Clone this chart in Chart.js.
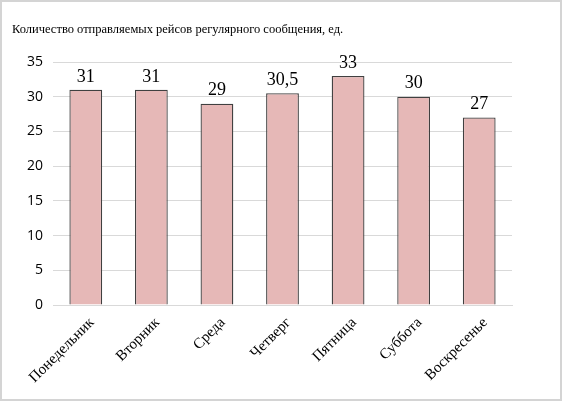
<!DOCTYPE html>
<html>
<head>
<meta charset="utf-8">
<script src="https://cdn.jsdelivr.net/npm/chart.js@4/dist/chart.umd.min.js"></script>
<style>
  html, body { margin: 0; padding: 0; background: #fff; }
  #wrap { width: 562px; height: 401px; position: relative; }
</style>
</head>
<body>
<div id="wrap"><canvas id="chart" width="562" height="401"></canvas></div>
<script>
// Data
const days = ["Понедельник", "Вторник", "Среда", "Четверг", "Пятница", "Суббота", "Воскресенье"];
const flights = [31, 31, 29, 30.5, 33, 30, 27];
const title = "Количество отправляемых рейсов регулярного сообщения, ед.";

// Frame + white background
const framePlugin = {
  id: "frame",
  beforeDraw(chart) {
    const ctx = chart.ctx;
    ctx.save();
    ctx.fillStyle = "#fff";
    ctx.fillRect(0, 0, chart.width, chart.height);
    ctx.strokeStyle = "#d4d4d4";
    ctx.lineWidth = 2;
    ctx.strokeRect(1, 1, chart.width - 2, chart.height - 2);
    ctx.restore();
  },
};

// Value labels above bars (comma decimal)
const valueLabels = {
  id: "valueLabels",
  afterDatasetsDraw(chart) {
    const ctx = chart.ctx;
    const meta = chart.getDatasetMeta(0);
    ctx.save();
    ctx.font = "18px 'Liberation Serif', 'Times New Roman', serif";
    ctx.fillStyle = "#000";
    ctx.textAlign = "center";
    ctx.textBaseline = "bottom";
    meta.data.forEach((bar, i) => {
      const txt = String(flights[i]).replace(".", ",");
      ctx.fillText(txt, bar.x, bar.y - 4);
    });
    ctx.restore();
  },
};

new Chart(document.getElementById("chart"), {
  type: "bar",
  data: {
    labels: days,
    datasets: [{
      data: flights,
      backgroundColor: "#e6b8b7",
      borderColor: "#404040",
      borderWidth: 1.3,
      categoryPercentage: 1,
      barPercentage: 0.5,
    }],
  },
  options: {
    responsive: false,
    animation: false,
    layout: { padding: { left: 12, right: 50, top: 22, bottom: 0 } },
    plugins: {
      legend: { display: false },
      tooltip: { enabled: false },
      title: {
        display: true,
        text: title,
        align: "start",
        color: "#000",
        font: { family: "'Liberation Serif', 'Times New Roman', serif", size: 12.5, weight: "normal" },
        padding: { top: 0, bottom: 25 },
      },
    },
    scales: {
      y: {
        min: 0,
        max: 35,
        ticks: {
          stepSize: 5,
          color: "#000",
          padding: 10,
          font: { family: "'Open Sans', 'Liberation Sans', sans-serif", size: 14 },
        },
        grid: { color: "#d9d9d9", drawTicks: false },
        border: { display: false },
        afterFit(s) { s.width = 41; },
      },
      x: {
        ticks: {
          color: "#000",
          maxRotation: 45,
          minRotation: 45,
          autoSkip: false,
          padding: 9,
          labelOffset: 6,
          font: { family: "'Liberation Serif', 'Times New Roman', serif", size: 15 },
        },
        grid: { display: false, drawTicks: false },
        border: { color: "#d9d9d9" },
        afterFit(s) { s.height = 96; },
      },
    },
  },
  plugins: [framePlugin, valueLabels],
});
</script>
</body>
</html>
